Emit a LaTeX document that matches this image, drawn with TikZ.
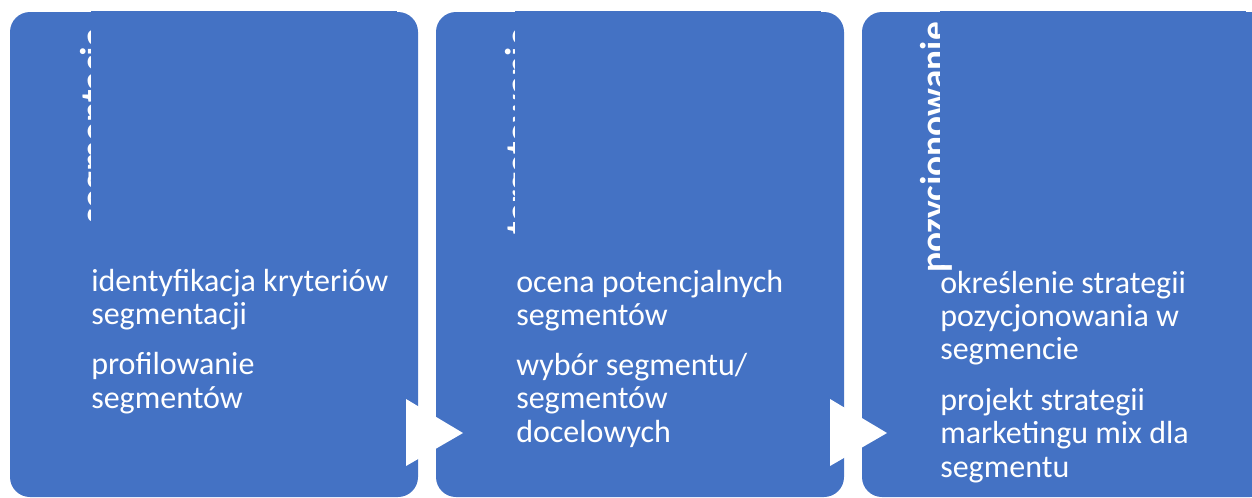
\documentclass[tikz,border=0pt]{standalone}
\usepackage{fontspec}
\setmainfont{Carlito}
\usetikzlibrary{positioning}
\definecolor{stageblue}{HTML}{4472C4}

\begin{document}
\begin{tikzpicture}[x=0.75pt, y=-0.75pt,
    stage/.style={rectangle, draw=none, fill=stageblue, rounded corners=15pt,
                  minimum width=306pt, minimum height=363.75pt, inner sep=0pt},
    panel/.style={rectangle, draw=none, fill=stageblue,
                  minimum width=229.5pt, minimum height=190.5pt, inner sep=0pt},
    title/.style={rotate=90, anchor=base east, inner sep=0pt, text=white,
                  font=\fontsize{28}{30}\selectfont\bfseries},
    % base anchor of a multi-line node sits on its last line
    body/.style={anchor=base west, align=left, inner sep=0pt, text=white,
                 font=\fontsize{24}{25}\selectfont},
    pointer/.style={fill=white, draw=none}]

\useasboundingbox (0,0) rectangle (1252,497);
\clip (0,0) rectangle (1252,497);

% Stage boxes
\node[stage] (seg) at (214, 254.5) {};
\node[stage] (tgt) at (640, 254.5) {};
\node[stage] (poz) at (1066, 254.5) {};

% Rotated stage titles
\node[title] (segT) at (106, 28) {segmentacja};
\node[title] (tgtT) at (531, 28) {targetowanie};
\node[title] (pozT) at (946, 22) {pozycjonowanie};

% Caption panels over the titles
\node[panel] (segC) at (244, 138) {};
\node[panel] (tgtC) at (668, 138) {};
\node[panel] (pozC) at (1093, 138) {};

% Stage contents
\node[body] (segB) at (91, 408)
  {identyfikacja kryteriów\\segmentacji\\[12.5pt]profilowanie\\segmentów};
\node[body] (tgtB) at (516, 442)
  {ocena potencjalnych\\segmentów\\[12.5pt]wybór segmentu/\\segmentów\\docelowych};
\node[body] (pozB) at (940, 477)
  {określenie strategii\\pozycjonowania w\\segmencie\\[13pt]projekt strategii\\marketingu mix dla\\segmentu};

% Pointers between stages
\fill[pointer] (406, 399) -- (463, 433) -- (406, 466) -- cycle;
\fill[pointer] (830, 399) -- (887, 433) -- (830, 466) -- cycle;

\end{tikzpicture}
\end{document}
